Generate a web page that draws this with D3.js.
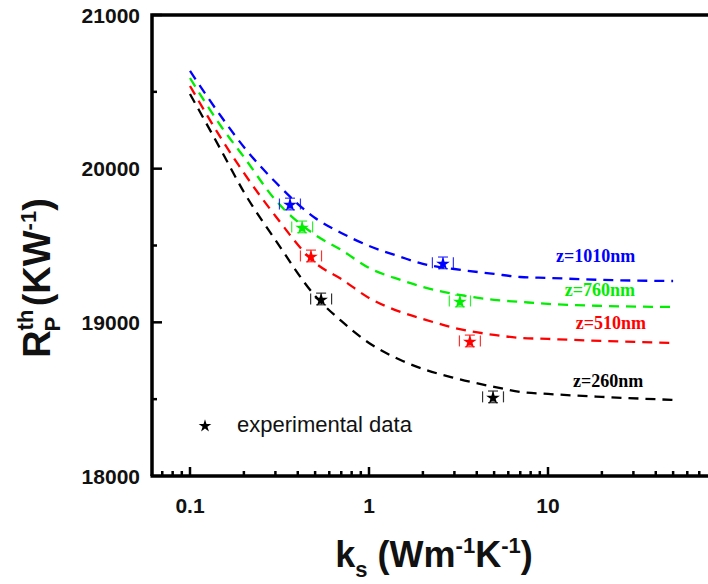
<!DOCTYPE html>
<html><head><meta charset="utf-8">
<script src="https://cdn.jsdelivr.net/npm/d3@7"></script>
<style>
html,body{margin:0;padding:0;background:#fff;}
svg{display:block;}
</style></head>
<body>
<script>
// ---- data ----
const kGrid = [0.1,0.15,0.2,0.3,0.5,0.7,1,1.5,2,3,5,7,10,20,50];
const fit1010 = [20636,20336,20141,19913,19679,19582,19497,19426,19380,19347,19315,19295,19289,19276,19269];
const fit760  = [20590,20271,20076,19796,19569,19471,19354,19276,19230,19185,19146,19133,19120,19107,19100];
const fit510  = [20538,20193,19972,19692,19387,19282,19159,19068,19022,18964,18918,18899,18892,18879,18866];
const fit260  = [20486,20115,19848,19536,19172,19009,18866,18755,18697,18638,18580,18547,18534,18515,18495];

const seriesNames = ["z=1010nm","z=760nm","z=510nm","z=260nm"];
const seriesColors = ["#0000ff","#00ee00","#ff0000","#000000"];

const expK    = [[0.362,2.59],[0.423,3.22],[0.474,3.66],[0.54,4.93]];
const expR    = [[19770,19387],[19621,19139],[19432,18879],[19152,18515]];
const expKLow = [[0.316,2.26],[0.37,2.81],[0.414,3.2],[0.472,4.31]];
const expKHigh= [[0.414,2.96],[0.484,3.69],[0.543,4.19],[0.618,5.64]];
const expRErr = 38;

const labelK = [11.1,12.4,14.3,13.8];
const labelR = [19393,19172,18957,18580];

const xMajorTicks = [0.1,1,10];
const xMinorTicks = [0.07,0.08,0.09,0.2,0.3,0.4,0.5,0.6,0.7,0.8,0.9,2,3,4,5,6,7,8,9,20,30,40,50,60,70];
const yMajorTicks = [18000,19000,20000,21000];
const yMinorTicks = [18500,19500,20500];

// ---- layout ----
const W = 708, H = 584;
const axLeft = 152, axRight = 708, axTop = 15, axBottom = 476;

const svg = d3.select("body").append("svg").attr("width",W).attr("height",H);

const x = d3.scaleLog().domain([0.1,10]).range([190,548]);
const y = d3.scaleLinear().domain([18000,21000]).range([axBottom,axTop]);

const fits = [fit1010,fit760,fit510,fit260];

// curves
const line = d3.line().x(d=>x(d[0])).y(d=>y(d[1])).curve(d3.curveMonotoneX);
fits.forEach((f,i)=>{
  svg.append("path")
    .attr("d", line(kGrid.map((k,j)=>[k,f[j]])))
    .attr("fill","none").attr("stroke",seriesColors[i])
    .attr("stroke-width",2.3).attr("stroke-dasharray","10,7");
});

// experimental points
const star = d3.symbol().type(d3.symbolStar).size(58);
expK.forEach((ks,i)=>{
  ks.forEach((k,j)=>{
    const cx = x(k), cy = y(expR[i][j]);
    const g = svg.append("g").attr("stroke",seriesColors[i]).attr("stroke-width",1.2).attr("opacity",0.8);
    [expKLow[i][j], expKHigh[i][j]].forEach(v=>{
      g.append("line").attr("x1",x(v)).attr("x2",x(v)).attr("y1",cy-5.5).attr("y2",cy+5.5);
    });
    const yt = y(expR[i][j]+expRErr), yb = y(expR[i][j]-expRErr);
    g.append("line").attr("x1",cx).attr("x2",cx).attr("y1",yt).attr("y2",yb);
    [yt,yb].forEach(v=>{
      g.append("line").attr("x1",cx-5).attr("x2",cx+5).attr("y1",v).attr("y2",v);
    });
    svg.append("path").attr("d",star()).attr("transform",`translate(${cx},${cy+1})`)
      .attr("fill",seriesColors[i]);
  });
});

// series labels
seriesNames.forEach((n,i)=>{
  svg.append("text").attr("x",x(labelK[i])).attr("y",y(labelR[i]))
    .attr("fill",seriesColors[i])
    .style("font-family","'Liberation Serif','Times New Roman',serif")
    .style("font-weight","bold").style("font-size","18px").text(n);
});

// legend
svg.append("path").attr("d",d3.symbol().type(d3.symbolStar).size(50)()).attr("transform","translate(205,426)").attr("fill","#000");
svg.append("text").attr("x",237).attr("y",432)
  .style("font-family","'Liberation Sans',Arial,sans-serif").style("font-size","22px")
  .attr("fill","#111").text("experimental data");

// axes
const axG = svg.append("g").attr("stroke","#000").attr("fill","none");
axG.append("path").attr("d",`M${axLeft},${axBottom}V${axTop}H${axRight}`).attr("stroke-width",3.5);
axG.append("line").attr("x1",axLeft-1.5).attr("x2",axRight).attr("y1",axBottom).attr("y2",axBottom).attr("stroke-width",3.5);

xMajorTicks.forEach(t=>{
  axG.append("line").attr("x1",x(t)).attr("x2",x(t)).attr("y1",axBottom).attr("y2",axBottom-9).attr("stroke-width",2.5);
});
xMinorTicks.forEach(t=>{
  axG.append("line").attr("x1",x(t)).attr("x2",x(t)).attr("y1",axBottom).attr("y2",axBottom-5).attr("stroke-width",2.5);
});
yMajorTicks.forEach(t=>{
  if(t===18000) return;
  axG.append("line").attr("x1",axLeft).attr("x2",axLeft+10).attr("y1",y(t)).attr("y2",y(t)).attr("stroke-width",2.5);
});
yMinorTicks.forEach(t=>{
  axG.append("line").attr("x1",axLeft).attr("x2",axLeft+5).attr("y1",y(t)).attr("y2",y(t)).attr("stroke-width",2.5);
});

const tickFont = "'Liberation Sans',Arial,sans-serif";
xMajorTicks.forEach(t=>{
  svg.append("text").attr("x",x(t)).attr("y",513).attr("text-anchor","middle")
    .style("font-family",tickFont).style("font-weight","bold").style("font-size","21px")
    .attr("fill","#111").text(d3.format("~g")(t));
});
yMajorTicks.forEach(t=>{
  svg.append("text").attr("x",140).attr("y",y(t)+7.5).attr("text-anchor","end")
    .style("font-family",tickFont).style("font-weight","bold").style("font-size","21px")
    .attr("fill","#111").text(t);
});

// x axis title
const xt = svg.append("text").attr("x",434).attr("y",567).attr("text-anchor","middle")
  .style("font-family",tickFont).style("font-weight","bold").style("font-size","36px").attr("fill","#111");
xt.append("tspan").text("k");
xt.append("tspan").attr("dy",10).style("font-size","22px").text("s");
xt.append("tspan").attr("dy",-10).text(" (Wm");
xt.append("tspan").attr("dy",-14).style("font-size","22px").text("-1");
xt.append("tspan").attr("dy",14).text("K");
xt.append("tspan").attr("dy",-14).style("font-size","22px").text("-1");
xt.append("tspan").attr("dy",14).text(")");

// y axis title
const yt = svg.append("text").attr("transform","translate(50,278) rotate(-90)").attr("text-anchor","middle")
  .style("font-family",tickFont).style("font-weight","bold").style("font-size","38px").attr("fill","#111");
yt.append("tspan").text("R");
yt.append("tspan").attr("dy",-17).style("font-size","22px").text("th");
yt.append("tspan").attr("dx",-22).attr("dy",27).style("font-size","22px").text("P");
yt.append("tspan").attr("dy",-10).text(" (KW");
yt.append("tspan").attr("dy",-14).style("font-size","22px").text("-1");
yt.append("tspan").attr("dy",14).text(")");
</script>
</body></html>
